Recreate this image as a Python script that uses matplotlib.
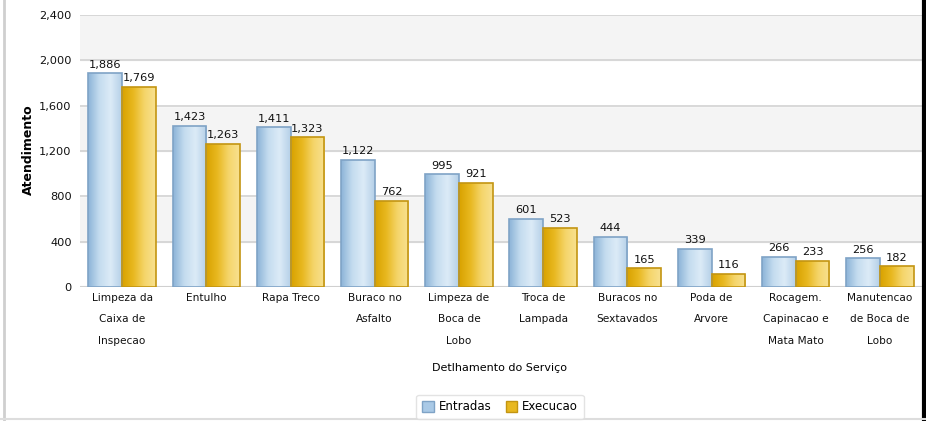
import matplotlib
matplotlib.use("Agg")
import matplotlib.pyplot as plt
import numpy as np
from matplotlib.patches import Rectangle
from matplotlib.colors import LinearSegmentedColormap
from matplotlib.lines import Line2D

categories = ["Limpeza da\nCaixa de\nInspecao", "Entulho", "Rapa Treco", "Buraco no\nAsfalto",
              "Limpeza de\nBoca de\nLobo", "Troca de\nLampada", "Buracos no\nSextavados",
              "Poda de\nArvore", "Rocagem.\nCapinacao e\nMata Mato", "Manutencao\nde Boca de\nLobo"]
entradas = [1886, 1423, 1411, 1122, 995, 601, 444, 339, 266, 256]
execucao = [1769, 1263, 1323, 762, 921, 523, 165, 116, 233, 182]
yticks = [0, 400, 800, 1200, 1600, 2000, 2400]
series_names = ["Entradas", "Execucao"]

W, H = 926, 421
fig = plt.figure(figsize=(W / 100, H / 100), dpi=100)
fig.patch.set_facecolor("white")

left, right, top, bottom = 80, 922, 15, 287
ax = fig.add_axes([left / W, 1 - bottom / H, (right - left) / W, (bottom - top) / H])
n = len(categories)
ax.set_xlim(-0.5, n - 0.5)
ax.set_ylim(0, 2400)

# alternating bands
for i in range(len(yticks) - 1):
    c = "white" if i % 2 == 0 else "#f4f4f4"
    ax.axhspan(yticks[i], yticks[i + 1], color=c, zorder=0)
for t in yticks[1:]:
    ax.axhline(t, color="#d2d2d2", lw=1.2, zorder=1)
ax.axhline(0, color="#d0d0d0", lw=1.5, zorder=1)

blue_cmap = LinearSegmentedColormap.from_list("b", ["#8db4d8", "#c4dcef", "#dcebf7", "#b5d0e8"])
gold_cmap = LinearSegmentedColormap.from_list("g", ["#d9a200", "#e8b820", "#f5d56a", "#f8e190"])
grad = np.linspace(0, 1, 64).reshape(1, -1)

x = np.arange(n)
bw = 0.4
for vals, off, cmap, ec in [(entradas, -bw / 2, blue_cmap, "#7fa3c6"),
                            (execucao, bw / 2, gold_cmap, "#c39512")]:
    bars = ax.bar(x + off, vals, width=bw, color="none", edgecolor=ec, lw=1.2, zorder=3)
    for b, v in zip(bars, vals):
        x0, w = b.get_x(), b.get_width()
        im = ax.imshow(grad, extent=[x0, x0 + w, 0, v], aspect="auto", cmap=cmap,
                       zorder=2.5, interpolation="bicubic")
        im.set_clip_path(b)
        ax.text(x0 + w / 2, v + 30, f"{v:,}", ha="center", va="bottom", fontsize=8.2,
                color="#111111", zorder=4)

ax.set_xticks(x)
ax.set_xticklabels(categories, fontsize=7.6, linespacing=2.45, color="#111111", va="top")
ax.set_yticks(yticks)
ax.set_yticklabels([f"{t:,}" for t in yticks], fontsize=8.2, color="#111111")
ax.tick_params(axis="both", length=0, pad=6)
ax.tick_params(axis="x", pad=4)
for s in ax.spines.values():
    s.set_visible(False)

fig.text(28 / W, 1 - 150 / H, "Atendimento", rotation=90, ha="center", va="center",
         fontsize=9, fontweight="bold")
fig.text(500 / W, 1 - 368 / H, "Detlhamento do Serviço", ha="center", va="center", fontsize=8)

handles = [Rectangle((0, 0), 1, 1, facecolor="#a9c9e6", edgecolor="#7fa3c6"),
           Rectangle((0, 0), 1, 1, facecolor="#e8b820", edgecolor="#c39512")]
leg = fig.legend(handles, series_names, loc="center", bbox_to_anchor=(500 / W, 1 - 407 / H),
                 ncol=2, fontsize=8.5, frameon=True, handlelength=1.0, handleheight=1.0,
                 columnspacing=1.2, handletextpad=0.4, borderpad=0.5, edgecolor="#dddddd",
                 fancybox=True)

# frame lines
fig.add_artist(Line2D([4 / W, 4 / W], [0, 1], color="#cfcfcf", lw=2))
fig.add_artist(Line2D([924 / W, 924 / W], [0, 1], color="#000000", lw=3))
fig.add_artist(Line2D([0, 1], [2 / H, 2 / H], color="#dddddd", lw=1.5))

fig.savefig("out.png", dpi=100, facecolor="white")
